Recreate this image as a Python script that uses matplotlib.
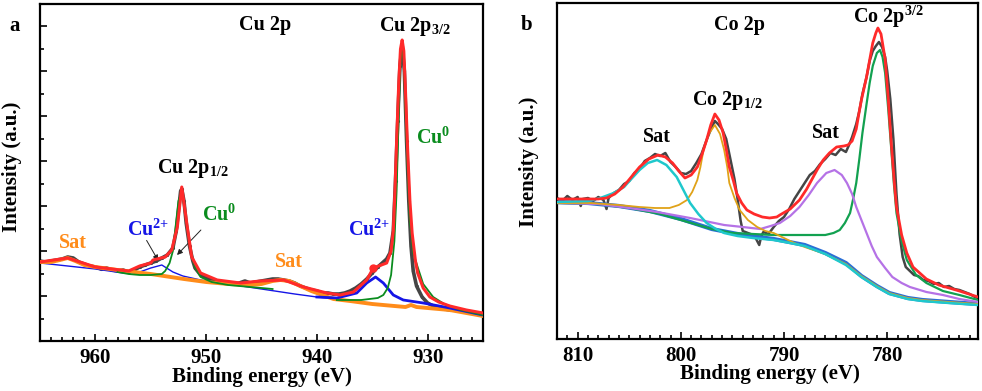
import matplotlib
matplotlib.use("Agg")
import matplotlib.pyplot as plt
from matplotlib.ticker import MultipleLocator

plt.rcParams['font.family'] = ['Liberation Serif', 'DejaVu Serif']
plt.rcParams['font.weight'] = 'bold'
plt.rcParams['mathtext.fontset'] = 'custom'
plt.rcParams['mathtext.rm'] = 'Liberation Serif:bold'
plt.rcParams['mathtext.bf'] = 'Liberation Serif:bold'
plt.rcParams['mathtext.default'] = 'bf'

# ---------------- panel a : Cu 2p ----------------
cu_raw_x = [965, 964.5, 964, 963.5, 963, 962.5, 962, 961.5, 961, 960.5, 960, 959.5, 959, 958.5,
            958, 957.5, 957, 956.5, 956, 955.5, 955, 954.5, 954, 953.5, 953, 952.7, 952.5, 952.3,
            952.2, 952.0, 951.8, 951.5, 951.2, 951, 950.5, 950, 949.5, 949, 948.5, 948, 947.5, 947,
            946.5, 946, 945.5, 945, 944.5, 944, 943.5, 943, 942.5, 942, 941.5, 941, 940.5, 940,
            939.5, 939, 938.5, 938, 937.5, 937, 936.5, 936, 935.5, 935, 934.5, 934, 933.7, 933.4,
            933.1, 932.9, 932.7, 932.5, 932.3, 932.1, 931.9, 931.7, 931.5, 931.3, 931.0, 930.5,
            930, 929.5, 929, 928.5, 928, 927.5, 927, 926.5, 926, 925.5, 925]
cu_raw_y = [80, 79, 80, 81, 82, 84, 83, 79, 77, 75, 74, 72, 73, 71,
            70, 71, 69, 71, 74, 76, 78, 80, 83, 86, 93, 110, 130, 150,
            152, 140, 118, 95, 80, 73, 66, 63, 61, 60, 59, 58, 57, 58,
            60, 58, 59, 60, 61, 62, 62, 61, 60, 58, 55, 53, 51, 50,
            48, 48, 47, 47, 48, 50, 53, 57, 62, 68, 74, 79, 82, 88,
            110, 160, 220, 275, 295, 270, 200, 140, 95, 70, 55, 44,
            38, 35, 33, 32, 31, 31, 30, 29, 28, 27, 26]

cu_env_x = [965, 962.5, 960, 957, 956, 955, 954.8, 953.7, 953.1, 952.6, 952.2, 951.7, 951.3, 950.5,
            949, 946.9, 945.1, 943, 941.2, 939.1, 937.9, 936.7, 935.5, 934.9, 933.7, 933.3, 933.1,
            932.95, 932.8, 932.6, 932.45, 932.3, 932.15, 932.0, 931.8, 931.6, 931.4, 931.1, 930.9,
            930.4, 929.8, 929, 928, 926.5, 925]
cu_env_y = [79, 83, 74, 70, 75, 78, 81, 84, 91, 114, 154, 114, 84, 68,
            61, 58, 60, 61, 54, 48, 46, 49, 61, 73, 78, 90, 110,
            150, 200, 260, 292, 301, 290, 250, 190, 140, 108, 80, 68,
            53, 44, 39, 35, 31, 28]

cu_bg_x = [965, 964, 963.2, 962.5, 961.8, 961, 960, 958, 955, 952, 950, 948, 946, 945, 944, 943.3,
           942.5, 941.5, 940.5, 939.5, 938.5, 937, 935, 933, 932, 931.5, 931, 930, 928, 926.5, 925]
cu_bg_y = [79, 79, 81, 83, 80, 76, 74, 71, 67, 62, 59, 57, 56, 57, 60, 61,
           60, 55, 50, 46, 42, 40, 37, 35, 34, 36, 34, 33, 31, 28, 25]

cu2_half_x = [965, 962.5, 960, 957.5, 956, 955, 954, 953, 952.1, 950.5, 948, 945, 942, 940, 938]
cu2_half_y = [78, 75, 72, 68, 69, 73, 76, 69, 65, 61, 57, 52, 47, 44, 42]

cu2_main_x = [940, 938.2, 936.4, 935.5, 934.7, 934.0, 933.1, 932.2, 930.4, 928.0, 925.0]
cu2_main_y = [44, 43, 48, 58, 64, 58, 46, 41, 38, 33, 26]

cu0_half_x = [958, 957, 956, 955, 954, 953.7, 953.3, 953.0, 952.7, 952.5, 952.2, 951.9, 951.6,
              951.3, 951.0, 950.5, 949.5, 948, 946, 944]
cu0_half_y = [69, 67, 66, 66, 67, 70, 78, 90, 120, 140, 149, 130, 104, 85, 74, 64, 59, 56, 54, 52]

cu0_main_x = [938.2, 936.0, 934.5, 934.0, 933.6, 933.3, 933.0, 932.8, 932.6, 932.45, 932.3,
              932.15, 932.0, 931.8, 931.6, 931.3, 930.9, 930.4, 929.5, 928.5, 927.0, 925.0]
cu0_main_y = [41, 41, 43, 46, 53, 66, 100, 150, 230, 280, 293,
              280, 230, 170, 120, 88, 74, 57, 44, 37, 31, 26]

# ---------------- panel b : Co 2p ----------------
co_raw_x = [812.0, 811.5, 811.0, 810.5, 810.0, 809.7, 809.5, 809.0, 808.5, 808.0, 807.5, 807.2,
            807.0, 806.5, 806.0, 805.5, 805.0, 804.5, 804.0, 803.5, 803.0, 802.5, 802.0, 801.5,
            801.0, 800.5, 800.0, 799.5, 799.0, 798.5, 798.0, 797.5, 797.0, 796.7, 796.4, 796.0,
            795.6, 795.2, 794.8, 794.5, 794.2, 794.0, 793.5, 793.0, 792.7, 792.4, 792.2, 792.0,
            791.5, 791.0, 790.5, 790.0, 789.5, 789.0, 788.5, 788.0, 787.5, 787.0, 786.5, 786.0,
            785.5, 785.0, 784.5, 784.0, 783.7, 783.4, 783.0, 782.7, 782.4, 782.0, 781.7, 781.4,
            781.1, 780.8, 780.5, 780.2, 780.0, 779.7, 779.4, 779.1, 778.8, 778.5, 778.2, 777.8,
            777.4, 777.0, 776.5, 776.0, 775.5, 775.0, 774.5, 774.0, 773.5, 773.0, 772.5, 772.0,
            771.5, 771.2]
co_raw_y = [141, 138, 143, 139, 142, 133, 140, 141, 138, 142, 139, 130,
            141, 146, 149, 155, 158, 166, 170, 178, 181, 185, 183, 186,
            177, 172, 166, 165, 168, 176, 185, 199, 212, 218, 215, 210,
            200, 180, 160, 140, 118, 108, 106, 104, 100, 94, 103, 107,
            105, 112, 118, 122, 130, 140, 148, 156, 164, 168, 175, 180,
            186, 184, 190, 187, 194, 202, 215, 228, 245, 262, 278, 288,
            293, 297, 292, 282, 268, 240, 200, 145, 105, 82, 72, 68,
            64, 63, 59, 58, 55, 56, 52, 53, 50, 49, 47, 45,
            42, 41]

co_env_x = [812, 810, 808, 807.2, 806.4, 805.6, 804.8, 804.0, 803.1, 802.2, 801.5, 800.8, 800.2,
            799.6, 799.0, 798.4, 797.9, 797.5, 797.1, 796.7, 796.3, 795.9, 795.6, 795.3, 794.9,
            794.6, 794.1, 793.6, 792.9, 792.1, 791.4, 790.7, 790.4, 789.4, 788.5, 787.8, 786.8,
            786.2, 785.6, 784.9, 784.2, 783.8, 783.4, 783.0, 782.7, 782.5, 782.0, 781.7, 781.4,
            781.1, 780.9, 780.6, 780.2, 779.9, 779.6, 779.3, 779.1, 778.6, 778.1, 777.5, 776.2,
            775.0, 773.0, 771.2]
co_env_y = [140, 140, 140, 141, 145, 152, 162, 172, 180, 184, 182, 176, 168,
            161, 164, 172, 186, 199, 214, 225, 219, 206, 190, 172, 158,
            146, 136, 129, 125, 122, 121, 122, 124, 130, 139, 150, 169,
            179, 186, 192, 193, 194, 198, 210, 228, 239, 262, 279, 296,
            306, 311, 305, 280, 240, 195, 155, 132, 104, 86, 72, 60,
            54, 48, 42]

co_bg_x = [812.0, 809, 806, 803, 800, 797, 794, 791, 788, 786, 784, 782.5, 781, 779.8, 778,
           776.6, 774, 771.2]
co_bg_y = [137, 136, 133, 128, 120, 110, 104, 100, 94, 86, 76, 63, 53, 46, 41, 39, 37, 35]

co_sat1_x = [812, 809, 807.8, 806.5, 805.5, 804.8, 804, 803.2, 802.3, 801.4, 800.4, 799.7, 799.1,
             798.3, 797.5, 796.6, 795.8, 794.5, 793, 791, 789.4, 788, 786, 784, 782.5, 781,
             779.8, 778, 776.6, 774, 771.2]
co_sat1_y = [137, 138, 141, 146, 152, 160, 169, 176, 179, 174, 162, 148, 136,
             125, 116, 110, 106, 103, 101, 99, 96, 93, 85, 74, 62, 52,
             45, 40, 38, 36, 34]

co_half_x = [812, 808.8, 806, 804, 802.5, 801.1, 800.2, 799.4, 798.9, 798.4, 798.1, 797.8, 797.3,
             796.7, 796.2, 795.8, 795.5, 795.3, 794.8, 794.3, 793.5, 792.6, 791.8, 791, 790, 789,
             788, 786, 784, 782.5, 781, 779.8, 778, 776.6, 774, 771.2]
co_half_y = [136, 136, 134, 132, 131, 131, 134, 139, 147, 159, 172, 189, 205,
             214, 205, 189, 172, 156, 141, 129, 119, 112, 108, 106, 101, 96,
             92, 85, 75, 63, 53, 46, 41, 39, 37, 35]

co_sat2_x = [812, 808, 805, 802.3, 799.1, 795.8, 794, 792.3, 791.3, 790.4, 789.4, 788.5, 787.6,
             786.8, 785.9, 785.1, 784.4, 783.9, 783.4, 783.0, 782.5, 782.0, 781.5, 781.0, 780.2,
             779.5, 778.6, 777.8, 776.2, 774.6, 773, 771.2]
co_sat2_y = [136, 135, 131, 127, 121, 114, 112, 110, 113, 116, 123, 132, 144,
             156, 166, 169, 164, 156, 145, 132, 119, 106, 93, 82, 71,
             62, 56, 52, 47, 44, 40, 37]

co_main_x = [812, 808, 805, 802, 799, 797, 795, 793, 791, 788, 786, 785.2, 784.6, 784.1, 783.6,
             783.3, 783.0, 782.7, 782.4, 782.0, 781.7, 781.4, 781.0, 780.7, 780.45, 780.2, 779.9,
             779.6, 779.35, 779.1, 778.6, 778.1, 777.2, 776.2, 774.6, 773, 771.2]
co_main_y = [136, 135, 131, 125, 116, 110, 106, 105, 104, 104, 104, 106, 109, 116, 126,
             140, 156, 180, 206, 235, 256, 273, 286, 289, 282, 266, 230,
             189, 155, 126, 98, 79, 64, 56, 48, 44, 39]

fig = plt.figure(figsize=(9.82, 3.91), dpi=100)
ax1 = fig.add_axes([40 / 982, 50 / 391, 443 / 982, 337 / 391])
ax2 = fig.add_axes([557 / 982, 52 / 391, 421 / 982, 336 / 391])

# panel a curves
ax1.plot(cu_raw_x, cu_raw_y, color='#454545', lw=2.6, marker='.', ms=2.5, zorder=1)
ax1.plot(cu2_half_x, cu2_half_y, color='#1515e6', lw=1.0, zorder=2)
ax1.plot(cu_bg_x, cu_bg_y, color='#ff8c1a', lw=2.8, zorder=3)
ax1.plot(cu2_main_x, cu2_main_y, color='#1515e6', lw=2.0, zorder=4)
ax1.plot(cu0_half_x, cu0_half_y, color='#0a8c1e', lw=1.3, zorder=5)
ax1.plot(cu0_main_x, cu0_main_y, color='#0a8c1e', lw=1.3, zorder=5)
ax1.plot(cu_env_x, cu_env_y, color='#ff2a2a', lw=2.2, zorder=6)
ax1.plot([934.9], [73], 'o', color='#ff2a2a', ms=5, zorder=6)

ax1.set_xlim(965, 925)
ax1.set_ylim(0, 337)
ax1.xaxis.set_major_locator(MultipleLocator(10))
ax1.xaxis.set_minor_locator(MultipleLocator(1))
ax1.yaxis.set_major_locator(MultipleLocator(45))
ax1.yaxis.set_minor_locator(MultipleLocator(22.5))
ax1.tick_params(axis='both', which='both', direction='in', width=1.2)
ax1.tick_params(axis='both', which='major', length=5, labelsize=15, pad=5)
ax1.tick_params(axis='both', which='minor', length=3)
ax1.tick_params(axis='y', labelleft=False)
ax1.set_xlabel('Binding energy (eV)', fontsize=15, fontweight='bold')
ax1.set_ylabel('Intensity (a.u.)', fontsize=15, fontweight='bold')
ax1.xaxis.set_label_coords(0.501, -26 / 337)
ax1.yaxis.set_label_coords(-18 / 443, 0.516)

ax1.text(944.7, 316, 'Cu 2p', fontsize=14.5, ha='center', va='center')
ax1.text(931.2, 314, 'Cu 2p$_{3/2}$', fontsize=14.5, ha='center', va='center')
ax1.text(929.5, 203, 'Cu$^{0}$', fontsize=14.5, color='#0a8c1e', ha='center', va='center')
ax1.text(951.2, 173, 'Cu 2p$_{1/2}$', fontsize=14.5, ha='center', va='center')
ax1.text(948.8, 126, 'Cu$^{0}$', fontsize=14.5, color='#0a8c1e', ha='center', va='center')
ax1.text(955.2, 111, 'Cu$^{2{+}}$', fontsize=14.5, color='#1515e6', ha='center', va='center')
ax1.text(962.0, 98, 'Sat', fontsize=14.5, color='#ff8c1a', ha='center', va='center')
ax1.text(942.5, 79, 'Sat', fontsize=14.5, color='#ff8c1a', ha='center', va='center')
ax1.text(935.3, 111, 'Cu$^{2{+}}$', fontsize=14.5, color='#1515e6', ha='center', va='center')
ax1.annotate('', xy=(954.2, 78), xytext=(955.5, 103),
             arrowprops=dict(arrowstyle='-|>', color='#222222', lw=0.7, mutation_scale=8))
ax1.annotate('', xy=(952.8, 84), xytext=(950.3, 113),
             arrowprops=dict(arrowstyle='-|>', color='#222222', lw=0.7, mutation_scale=8))

# panel b curves
ax2.plot(co_raw_x, co_raw_y, color='#454545', lw=1.8, zorder=1)
ax2.plot(co_bg_x, co_bg_y, color='#2a6fd6', lw=3.0, zorder=2)
ax2.plot(co_main_x, co_main_y, color='#12a150', lw=1.6, zorder=3)
ax2.plot(co_sat2_x, co_sat2_y, color='#b572e6', lw=1.6, zorder=3)
ax2.plot(co_half_x, co_half_y, color='#e0a218', lw=1.3, zorder=3)
ax2.plot(co_sat1_x, co_sat1_y, color='#1fc8cc', lw=1.8, zorder=4)
ax2.plot(co_env_x, co_env_y, color='#ff2a2a', lw=2.0, zorder=5)

ax2.set_xlim(812, 771.2)
ax2.set_ylim(0, 336)
ax2.xaxis.set_major_locator(MultipleLocator(10))
ax2.xaxis.set_minor_locator(MultipleLocator(1))
ax2.set_yticks([])
ax2.tick_params(axis='x', which='both', direction='in', width=1.2)
ax2.tick_params(axis='x', which='major', length=5, labelsize=15, pad=5)
ax2.tick_params(axis='x', which='minor', length=3)
ax2.set_xlabel('Binding energy (eV)', fontsize=15, fontweight='bold')
ax2.set_ylabel('Intensity (a.u.)', fontsize=15, fontweight='bold')
ax2.xaxis.set_label_coords(0.506, -25 / 336)
ax2.yaxis.set_label_coords(-18 / 421, 0.527)

ax2.text(794.3, 314, 'Co 2p', fontsize=14.5, ha='center', va='center')
ax2.text(779.9, 322, 'Co 2p$^{3/2}$', fontsize=14.5, ha='center', va='center')
ax2.text(795.5, 239, 'Co 2p$_{1/2}$', fontsize=14.5, ha='center', va='center')
ax2.text(802.3, 202, 'Sat', fontsize=14.5, ha='center', va='center')
ax2.text(785.9, 206, 'Sat', fontsize=14.5, ha='center', va='center')

for ax in (ax1, ax2):
    for sp in ax.spines.values():
        sp.set_linewidth(1.6)
    for lab in ax.get_xticklabels():
        lab.set_fontweight('bold')

fig.text(15 / 982, 1 - 26 / 391, 'a', fontsize=15, fontweight='bold', ha='center', va='center')
fig.text(527 / 982, 1 - 25 / 391, 'b', fontsize=15, fontweight='bold', ha='center', va='center')

fig.savefig('out.png', dpi=100)
